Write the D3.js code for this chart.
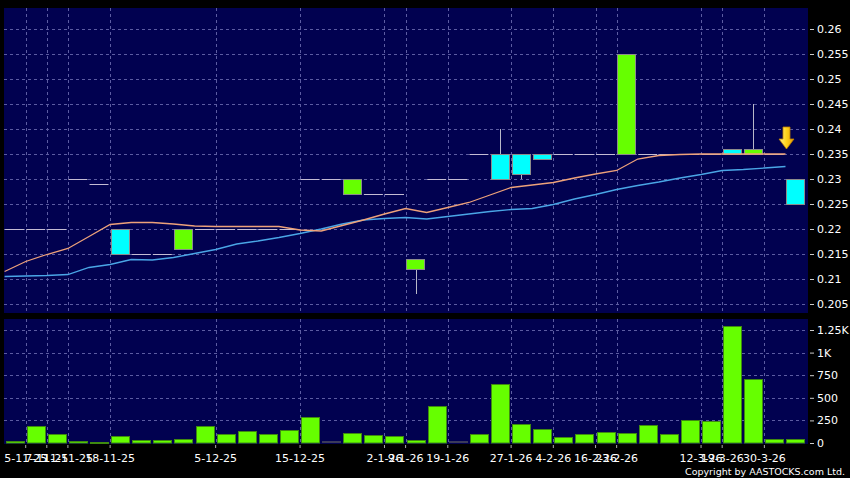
<!DOCTYPE html>
<html><head><meta charset="utf-8">
<script src="https://cdn.jsdelivr.net/npm/d3@7"></script>
<style>
html,body{margin:0;padding:0;background:#000;}
svg{display:block;font-family:"DejaVu Sans",sans-serif;}
</style></head>
<body>
<svg id="chart" width="850" height="478"></svg>
<script>
const dates = ["3-11-25","5-11-25","7-11-25","11-11-25","14-11-25","18-11-25","20-11-25","24-11-25","27-11-25","1-12-25",
"5-12-25","9-12-25","10-12-25","12-12-25","15-12-25","17-12-25","19-12-25","23-12-25","2-1-26","9-1-26",
"15-1-26","19-1-26","21-1-26","23-1-26","27-1-26","30-1-26","4-2-26","10-2-26","16-2-26","23-2-26",
"26-2-26","3-3-26","6-3-26","12-3-26","19-3-26","25-3-26","30-3-26","2-4-26"];
const open  = [0.22,0.22,0.22,0.23,0.229,0.22,0.215,0.215,0.216,0.22,0.22,0.22,0.22,0.22,0.23,0.23,0.227,0.227,0.227,0.212,
0.23,0.23,0.235,0.235,0.235,0.235,0.235,0.235,0.235,0.235,0.235,0.235,0.235,0.235,0.236,0.235,0.235,0.23];
const high  = [0.22,0.22,0.22,0.23,0.229,0.22,0.215,0.215,0.22,0.22,0.22,0.22,0.22,0.22,0.23,0.23,0.23,0.227,0.227,0.214,
0.23,0.23,0.235,0.24,0.235,0.235,0.235,0.235,0.235,0.255,0.235,0.235,0.235,0.235,0.236,0.245,0.235,0.23];
const low   = [0.22,0.22,0.22,0.23,0.229,0.215,0.215,0.215,0.216,0.22,0.22,0.22,0.22,0.22,0.23,0.23,0.227,0.227,0.227,0.207,
0.23,0.23,0.235,0.23,0.23,0.234,0.235,0.235,0.235,0.235,0.235,0.235,0.235,0.235,0.235,0.235,0.235,0.225];
const close = [0.22,0.22,0.22,0.23,0.229,0.215,0.215,0.215,0.22,0.22,0.22,0.22,0.22,0.22,0.23,0.23,0.23,0.227,0.227,0.214,
0.23,0.23,0.235,0.23,0.231,0.234,0.235,0.235,0.235,0.255,0.235,0.235,0.235,0.235,0.235,0.236,0.235,0.225];
const maShort = [0.2115,0.2135,0.2149,0.2161,0.2185,0.2209,0.2213,0.2213,0.2210,0.2206,0.2205,0.2205,0.2205,0.2205,0.2198,0.2196,0.2207,0.2218,0.2230,0.2241,
0.2233,0.2243,0.2253,0.2268,0.2283,0.2288,0.2293,0.2302,0.2310,0.2317,0.2340,0.2347,0.2349,0.235,0.235,0.235,0.235,0.235];
const maLong = [0.2105,0.2106,0.2107,0.2109,0.2123,0.2129,0.2139,0.2138,0.2143,0.2151,0.2159,0.2170,0.2176,0.2183,0.2191,0.2200,0.2210,0.2218,0.2221,0.2223,
0.2220,0.2225,0.2230,0.2235,0.2239,0.2241,0.2249,0.2260,0.2269,0.2279,0.2287,0.2294,0.2302,0.2309,0.2317,0.2319,0.2322,0.2325];
const volume = [25,188,99,25,14,77,33,33,44,188,99,136,99,147,287,0,107,88,77,33,
412,0,99,648,206,155,66,99,125,107,195,99,254,243,1299,706,44,44];
const tickDates = ["5-11-25","7-11-25","11-11-25","18-11-25","5-12-25","15-12-25","2-1-26","9-1-26","19-1-26","27-1-26","4-2-26","16-2-26","23-2-26","12-3-26","19-3-26","30-3-26"];
const priceTicks = [0.205,0.21,0.215,0.22,0.225,0.23,0.235,0.24,0.245,0.25,0.255,0.26];
const volTicks = [0,250,500,750,1000,1250];
const volTickLabels = ["0","250","500","750","1K","1.25K"];
const signalIndex = 37;

const svg = d3.select("#chart");
const L = 4, R = 808;
const pTop = 8, pBot = 313, vTop = 319, vBot = 444;
const navy = "#010150", grid = "#5c5ca2";
const up = "#66ff00", down = "#00ffff";

const x = d3.scaleBand().domain(d3.range(dates.length)).range([4.6, 806.6]);
const bw = x.bandwidth() * 0.9;
const y = d3.scaleLinear().domain([0.2032, 0.2642]).range([pBot, pTop]);
const yv = d3.scaleLinear().domain([0, 1250]).range([443, 330]);

svg.append("rect").attr("width",850).attr("height",478).attr("fill","#000");
svg.append("rect").attr("x",L).attr("y",pTop).attr("width",R-L).attr("height",pBot-pTop).attr("fill",navy);
svg.append("rect").attr("x",L).attr("y",vTop).attr("width",R-L).attr("height",vBot-vTop).attr("fill",navy);

const tickIdx = tickDates.map(t => dates.indexOf(t));

// grids
const g = svg.append("g").attr("stroke",grid).attr("stroke-dasharray","3,3").attr("stroke-width",1);
priceTicks.forEach(t => g.append("line").attr("x1",L).attr("x2",R).attr("y1",Math.round(y(t))+0.5).attr("y2",Math.round(y(t))+0.5));
volTicks.slice(1).forEach(t => g.append("line").attr("x1",L).attr("x2",R).attr("y1",Math.round(yv(t))+0.5).attr("y2",Math.round(yv(t))+0.5));
tickIdx.forEach(i => {
  const xx = Math.round(x(i))+0.5;
  g.append("line").attr("x1",xx).attr("x2",xx).attr("y1",pTop).attr("y2",pBot);
  g.append("line").attr("x1",xx).attr("x2",xx).attr("y1",vTop).attr("y2",vBot);
});

// candles
const c = svg.append("g");
dates.forEach((d,i) => {
  const x0 = x(i) + 0.5, cx = Math.round(x0 + bw/2) + 0.5;
  const o = open[i], cl = close[i], h = high[i], l = low[i];
  const top = y(Math.max(o,cl)), bot = y(Math.min(o,cl));
  if (h > Math.max(o,cl)) c.append("line").attr("x1",cx).attr("x2",cx).attr("y1",y(h)).attr("y2",top).attr("stroke","#b8b8c8");
  if (l < Math.min(o,cl)) c.append("line").attr("x1",cx).attr("x2",cx).attr("y1",bot).attr("y2",y(l)).attr("stroke","#b8b8c8");
  if (o === cl) {
    const yy = Math.round(y(o)) + 0.5;
    c.append("line").attr("x1",x0).attr("x2",x0+bw).attr("y1",yy).attr("y2",yy).attr("stroke","#c4bcd4").attr("stroke-width",1);
  } else {
    c.append("rect").attr("x",Math.round(x0)+0.5).attr("y",Math.round(top)+0.5).attr("width",Math.round(bw)-1).attr("height",Math.round(bot-top))
      .attr("fill", cl > o ? up : down).attr("stroke","#8c8c8c").attr("stroke-width",1);
  }
});

// moving averages
const line = (arr) => d3.line().x((d,i) => x(i)).y(d => y(d))(arr);
svg.append("path").attr("d",line(maLong)).attr("fill","none").attr("stroke","#4aa6e6").attr("stroke-width",1.3);
svg.append("path").attr("d",line(maShort)).attr("fill","none").attr("stroke","#eea27a").attr("stroke-width",1.3);

// signal arrow
const ax = x(signalIndex) + 1, ay = y(close[signalIndex-1]) - 5;
const defs = svg.append("defs");
const grad = defs.append("linearGradient").attr("id","ag").attr("x1",0).attr("x2",1).attr("y1",0).attr("y2",0);
grad.append("stop").attr("offset","0%").attr("stop-color","#fff08a");
grad.append("stop").attr("offset","50%").attr("stop-color","#ffd21a");
grad.append("stop").attr("offset","100%").attr("stop-color","#e89a00");
svg.append("path")
  .attr("d",`M${ax-3.5},${ay-22} L${ax+3.5},${ay-22} L${ax+3.5},${ay-10} L${ax+7.5},${ay-10} L${ax},${ay} L${ax-7.5},${ay-10} L${ax-3.5},${ay-10} Z`)
  .attr("fill","url(#ag)").attr("stroke","#c08000").attr("stroke-width",0.8);

// volume bars
const vb = svg.append("g");
volume.forEach((v,i) => {
  const x0 = Math.round(x(i)) + 1.5;
  if (v === 0) {
    vb.append("rect").attr("x",x0).attr("y",441.5).attr("width",Math.round(bw)-1).attr("height",1)
      .attr("fill","#101040").attr("stroke","#3a3a5a").attr("stroke-width",1);
  } else {
    const t = Math.round(yv(v)) + 0.5;
    vb.append("rect").attr("x",x0).attr("y",t).attr("width",Math.round(bw)-1).attr("height",Math.max(1,443-t))
      .attr("fill",up).attr("stroke","#3f8a10").attr("stroke-width",1);
  }
});

// right axes
const ya = svg.append("g").attr("transform",`translate(${R+2},0)`)
  .call(d3.axisRight(y).tickValues(priceTicks).tickSize(4).tickPadding(3).tickFormat(d => String(+d.toFixed(3))));
const yva = svg.append("g").attr("transform",`translate(${R+2},0)`)
  .call(d3.axisRight(yv).tickValues(volTicks).tickSize(4).tickPadding(3).tickFormat((d,i) => volTickLabels[i]));
[ya,yva].forEach(a => {
  a.select(".domain").remove();
  a.selectAll("line").attr("stroke","#cccccc");
  a.selectAll("text").attr("fill","#ffffff").attr("font-size","11px").attr("font-family","DejaVu Sans");
});

// x axis
const xa = svg.append("g").attr("transform",`translate(0,${vBot+1})`)
  .call(d3.axisBottom(x).tickValues(tickIdx).tickSize(3).tickPadding(6).tickFormat(i => dates[i]));
xa.select(".domain").remove();
xa.selectAll(".tick").attr("transform", i => `translate(${x(i)},0)`);
xa.selectAll("line").attr("stroke","#aaaaaa");
xa.selectAll("text").attr("fill","#ffffff").attr("font-size","11px").attr("font-family","DejaVu Sans");

svg.append("text").attr("x",845).attr("y",475).attr("text-anchor","end").attr("fill","#ffffff")
  .attr("font-size","9.5px").attr("font-family","DejaVu Sans").text("Copyright by AASTOCKS.com Ltd.");
</script>
</body></html>
